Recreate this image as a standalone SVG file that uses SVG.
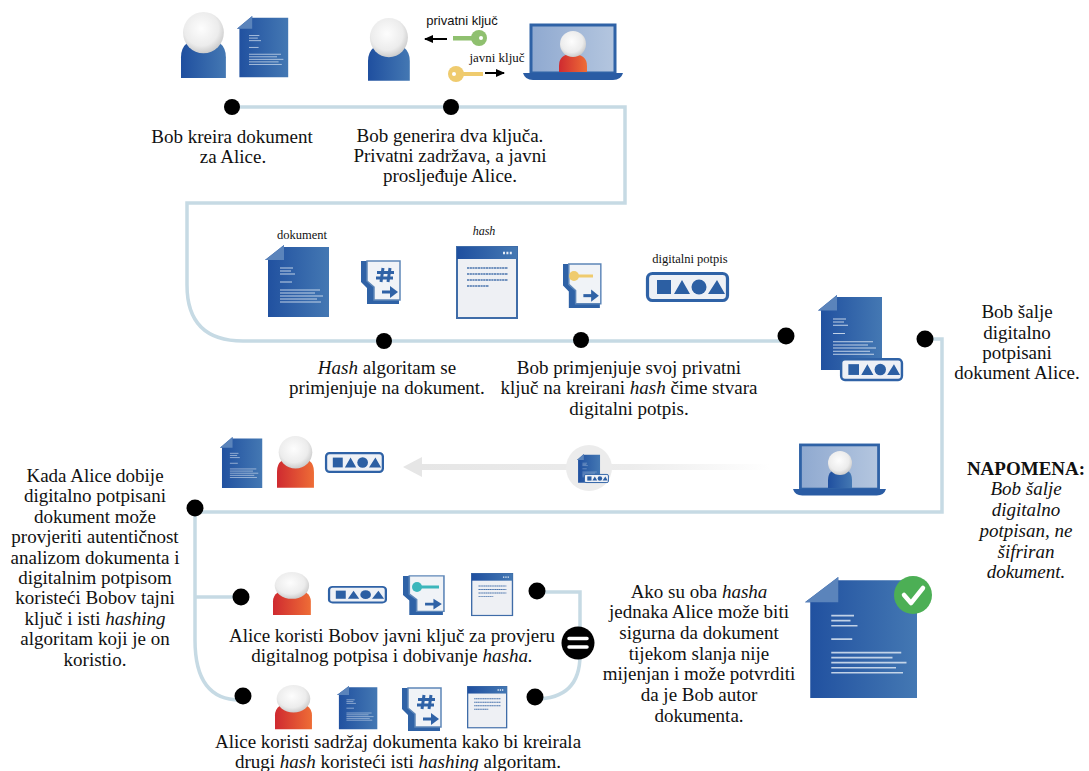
<svg xmlns="http://www.w3.org/2000/svg" width="1089" height="771" viewBox="0 0 1089 771">
<style>
text{font-family:"Liberation Serif","Times New Roman",serif;font-size:19px;fill:#111;text-anchor:middle}
.i{font-style:italic}
.s{font-size:12px}
.line{fill:none;stroke:#c6dae4;stroke-width:3.5}
.dot{fill:#000}
.dl{stroke:#dce6f2;stroke-width:1;fill:none;opacity:.85}
.wl{stroke:#4a74ad;stroke-width:1.6;stroke-dasharray:2.2 .5;fill:none}
</style>
<defs>
<linearGradient id="gb" x1="0" x2="1" y1="0" y2="0"><stop offset="0" stop-color="#1f4f9f"/><stop offset="1" stop-color="#4478b3"/></linearGradient>
<linearGradient id="gr" x1="0" x2="1" y1="0" y2="0"><stop offset="0" stop-color="#cf2a30"/><stop offset="1" stop-color="#ee6d36"/></linearGradient>
<linearGradient id="gs" x1="0" x2="1" y1="0" y2="0"><stop offset="0" stop-color="#8fa9d0"/><stop offset="1" stop-color="#b4c6df"/></linearGradient>
<linearGradient id="ga" x1="0" x2="1" y1="0" y2="0"><stop offset="0" stop-color="#e6e6e6"/><stop offset=".6" stop-color="#ececec"/><stop offset="1" stop-color="#fff"/></linearGradient>
<radialGradient id="gh" cx=".45" cy=".4" r=".65"><stop offset="0" stop-color="#fdfdfd"/><stop offset=".65" stop-color="#ececec"/><stop offset="1" stop-color="#c4c4c4"/></radialGradient>
<g id="head"><circle cx="22" cy="20" r="20" fill="url(#gh)"/></g>
<g id="pb"><path d="M0 64V44Q0 26 22 26Q44 26 44 44V64Z" fill="url(#gb)"/><use href="#head"/></g>
<g id="pr"><path d="M0 64V44Q0 26 22 26Q44 26 44 44V64Z" fill="url(#gr)"/><use href="#head"/></g>
<g id="doc">
<path d="M19 0V2H64V72H3V15H0Z" fill="url(#gb)"/>
<path d="M0 15L19 0V15Z" fill="#5b84bb"/>
<path class="dl" d="M15 23H28M15 26H26M15 29H30M15 37H27M15 45H55M15 48H50M15 51H58M15 54H52M15 57H56"/>
</g>
<g id="sig">
<rect x="1.5" y="1.5" width="80" height="27" rx="5" fill="#eef1f6" stroke="#2f62a6" stroke-width="3.2"/>
<rect x="11" y="8" width="14" height="14" fill="#2c5fa3"/>
<path d="M28 22L36 8L44 22ZM62 22L71 8L79 22Z" fill="#2c5fa3"/>
<circle cx="53" cy="15" r="7.5" fill="#2c5fa3"/>
</g>
<g id="base">
<path d="M6 1H0V22L6 28V44H38V40H13V27L6 21Z" fill="#2f62a6"/>
<path d="M6 1H39V40H13V27L6 21Z" fill="#f0f3f7" stroke="#5d86b8" stroke-width="1.5"/>
<path d="M21 32H32" stroke="#2f62a6" stroke-width="3"/><path d="M29 26L37 32L29 38Z" fill="#2f62a6"/>
</g>
<g id="hi"><use href="#base"/><path d="M22 8L20 22M29 8L27 22M16 12.500H33M15 18H32" stroke="#2f62a6" stroke-width="3" fill="none"/></g>
<g id="win">
<rect x="1" y="1" width="60" height="71" fill="#eef0f4" stroke="#3f6ca8" stroke-width="2"/>
<rect x="1" y="1" width="60" height="12" fill="url(#gb)"/>
<path d="M47 7H56" stroke="#e4ecf7" stroke-width="2.4" stroke-dasharray="2 1.4"/>
<path class="wl" d="M11 22H52M11 28H52M11 34H52M11 40H33"/>
</g>
<g id="lap">
<rect x="8" y="1" width="84" height="48" fill="url(#gs)" stroke="#2f62a6" stroke-width="3"/>
</g>
<g id="labase"><path d="M0 49H100Q98 56 90 56H10Q2 56 0 49Z" fill="#2a5ca4"/></g>
</defs>
<rect width="1089" height="771" fill="#fff"/>

<g id="connectors">
<path class="line" d="M232 107H625V203H187V285Q187 341 243 341H786"/>
<path class="line" d="M925 339H942V512H195"/>
<path class="line" d="M195 510V640Q195 700 240 700"/>
<path class="line" d="M195 597H241"/>
<path class="line" d="M537 592H580V655Q580 699 535 699"/>
<rect x="420" y="464" width="350" height="6" fill="url(#ga)"/>
<path d="M403 467L422 457V477Z" fill="#e6e6e6"/>
<path d="M447 39H425" stroke="#000" stroke-width="2"/><path d="M424 39L433 35V43Z" fill="#000"/>
<path d="M485 73H504" stroke="#000" stroke-width="2"/><path d="M505 73L496 69V77Z" fill="#000"/>
</g>

<g id="step1">
<use href="#pb" transform="translate(181 12) scale(1.02 1.03)"/>
<use href="#doc" transform="translate(237 16) scale(.8 .85)"/>
<circle class="dot" cx="232" cy="107" r="8"/>
<text x="232" y="143">Bob kreira dokument</text>
<text x="233" y="163">za Alice.</text>
</g>

<g id="step2">
<use href="#pb" transform="translate(368 18) scale(.95 .98)"/>
<g id="keys">
<text x="462" y="25" class="s" style="font-family:'Liberation Sans',sans-serif;font-size:13px">privatni ključ</text>
<rect x="453" y="36" width="20" height="4.500" fill="#8fc06f"/><circle cx="479" cy="38" r="8" fill="#8fc06f"/><circle cx="481" cy="38" r="2" fill="#fff"/>
<text x="497" y="62" style="font-size:13px">javni ključ</text>
<rect x="460" y="72" width="23" height="4" fill="#efcb6e"/><circle cx="456" cy="74" r="8" fill="#efcb6e"/><circle cx="454" cy="74" r="2" fill="#fff"/>
</g>
<g id="laptop1">
<use href="#lap" transform="translate(523 24)"/>
<path d="M559 72V66Q559 54 572 54Q587 54 587 66V72Z" fill="url(#gr)"/>
<circle cx="573" cy="44" r="13" fill="url(#gh)"/>
<use href="#labase" transform="translate(523 24)"/>
</g>
<circle class="dot" cx="451" cy="107" r="8"/>
<text x="450" y="142">Bob generira dva ključa.</text>
<text x="450" y="162">Privatni zadržava, a javni</text>
<text x="450" y="182">prosljeđuje Alice.</text>
</g>

<g id="step3">
<text x="302" y="239" style="font-size:12.500px">dokument</text>
<use href="#doc" transform="translate(265 245)"/>
<use href="#hi" transform="translate(361 260)"/>
<text x="484" y="235" class="s i">hash</text>
<use href="#win" transform="translate(456 246)"/>
<circle class="dot" cx="384" cy="341" r="8"/>
<text x="387" y="374"><tspan class="i">Hash</tspan> algoritam se</text>
<text x="387" y="394">primjenjuje na dokument.</text>
</g>

<g id="step4">
<use href="#base" transform="translate(563 263) scale(.97 1.02)"/>
<circle cx="574" cy="276" r="5" fill="#efcb6e"/><rect x="578" y="274.500" width="15" height="3" fill="#efcb6e"/>
<text x="690" y="263" style="font-size:12.500px">digitalni potpis</text>
<use href="#sig" transform="translate(646 272)"/>
<circle class="dot" cx="581" cy="340" r="8"/>
<text x="629" y="374">Bob primjenjuje svoj privatni</text>
<text x="629" y="394">ključ na kreirani <tspan class="i">hash</tspan> čime stvara</text>
<text x="629" y="415">digitalni potpis.</text>
</g>

<g id="step5">
<use href="#doc" transform="translate(818 295) scale(1 1.04)"/>
<use href="#sig" transform="translate(840 358) scale(.76 .77)"/>
<circle class="dot" cx="786" cy="336" r="8.500"/>
<circle class="dot" cx="925" cy="339" r="8.500"/>
<text x="1017" y="318">Bob šalje</text>
<text x="1017" y="339">digitalno</text>
<text x="1017" y="359">potpisani</text>
<text x="1017" y="379">dokument Alice.</text>
</g>

<g id="note">
<text x="1026" y="475" style="font-weight:bold">NAPOMENA:</text>
<text x="1026" y="495" class="i">Bob šalje</text>
<text x="1026" y="516" class="i">digitalno</text>
<text x="1026" y="537" class="i">potpisan, ne</text>
<text x="1026" y="558" class="i">šifriran</text>
<text x="1026" y="578" class="i">dokument.</text>
</g>

<g id="transfer">
<use href="#doc" transform="translate(220 437) scale(.66 .71)"/>
<use href="#pr" transform="translate(277 436) scale(.84 .81)"/>
<use href="#sig" transform="translate(325 452) scale(.71 .7)"/>
<circle cx="589" cy="468" r="23" fill="#ececec"/>
<use href="#doc" transform="translate(577 454) scale(.36 .4)"/>
<use href="#sig" transform="translate(584 474) scale(.3 .3)"/>
<g id="laptop2">
<use href="#lap" transform="translate(793 444) scale(.93 .92)"/>
<path d="M828 488V480Q828 469 840 469Q852 469 852 480V488Z" fill="url(#gb)"/>
<circle cx="840" cy="463" r="12" fill="url(#gh)"/>
<use href="#labase" transform="translate(793 444) scale(.93 .92)"/>
</g>
</g>

<g id="step6">
<circle class="dot" cx="195" cy="508" r="8.500"/>
<text x="95" y="482">Kada Alice dobije</text>
<text x="95" y="502">digitalno potpisani</text>
<text x="95" y="523">dokument može</text>
<text x="95" y="543">provjeriti autentičnost</text>
<text x="95" y="564">analizom dokumenta i</text>
<text x="95" y="584">digitalnim potpisom</text>
<text x="95" y="604">koristeći Bobov tajni</text>
<text x="95" y="625">ključ i isti <tspan class="i">hashing</tspan></text>
<text x="95" y="645">algoritam koji je on</text>
<text x="95" y="666">koristio.</text>
</g>

<g id="step7">
<circle class="dot" cx="241" cy="597" r="8.500"/>
<use href="#pr" transform="translate(273 572) scale(.86 .67)"/>
<use href="#sig" transform="translate(328 586) scale(.71 .58)"/>
<use href="#base" transform="translate(403 575) scale(1.05 .91)"/>
<circle cx="417" cy="587" r="5" fill="#3cb6bb"/><rect x="421" y="585.500" width="18" height="3" fill="#3cb6bb"/>
<use href="#win" transform="translate(471 573) scale(.68 .59)"/>
<circle class="dot" cx="537" cy="591" r="8.500"/>
<text x="392" y="642">Alice koristi Bobov javni ključ za provjeru</text>
<text x="392" y="662">digitalnog potpisa i dobivanje <tspan class="i">hasha.</tspan></text>
</g>

<g id="equals">
<circle cx="578" cy="643" r="16.500" fill="#000"/>
<path d="M569 638.500H587M569 647H587" stroke="#fff" stroke-width="3.500" stroke-linecap="round"/>
</g>

<g id="step8">
<circle class="dot" cx="243" cy="696" r="8.500"/>
<use href="#pr" transform="translate(275 685) scale(.84 .69)"/>
<use href="#doc" transform="translate(337 686) scale(.63 .6)"/>
<use href="#hi" transform="translate(402 687)"/>
<use href="#win" transform="translate(467 686) scale(.65 .58)"/>
<circle class="dot" cx="535" cy="697" r="8.500"/>
<text x="398" y="748">Alice koristi sadržaj dokumenta kako bi kreirala</text>
<text x="398" y="768">drugi <tspan class="i">hash</tspan> koristeći isti <tspan class="i">hashing</tspan> algoritam.</text>
</g>

<g id="result">
<text x="699" y="598">Ako su oba <tspan class="i">hasha</tspan></text>
<text x="699" y="618">jednaka Alice može biti</text>
<text x="699" y="639">sigurna da dokument</text>
<text x="699" y="660">tijekom slanja nije</text>
<text x="699" y="680">mijenjan i može potvrditi</text>
<text x="699" y="701">da je Bob autor</text>
<text x="699" y="722">dokumenta.</text>
<use href="#doc" transform="translate(805 577) scale(1.75 1.68)"/>
<circle cx="913" cy="595" r="19" fill="#4caf55"/>
<path d="M904 595L911 603L923 588" fill="none" stroke="#fff" stroke-width="4.500" stroke-linecap="round" stroke-linejoin="round"/>
</g>
</svg>
